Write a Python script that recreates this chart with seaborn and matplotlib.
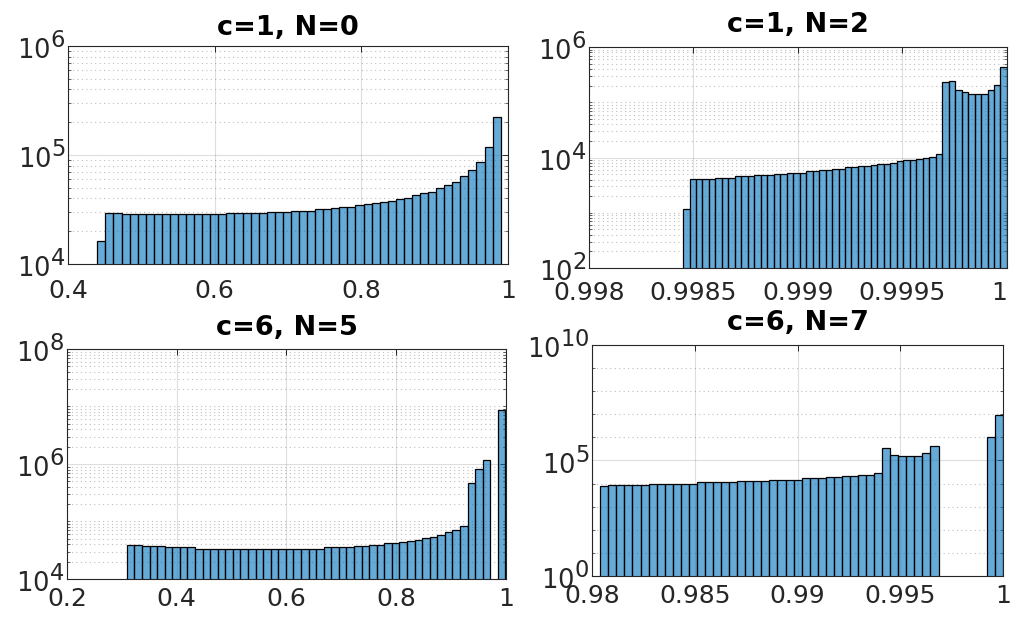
import numpy as np
import pandas as pd
import matplotlib
matplotlib.use("Agg")
import matplotlib.pyplot as plt
import matplotlib.ticker as mticker
import matplotlib._mathtext as _mt
import seaborn as sns

# ---------------- data ----------------
titles = ["c=1, N=0", "c=1, N=2", "c=6, N=5", "c=6, N=7"]

# histogram bin range (first edge, last edge) for each panel, 50 bins each
bin_lo = [0.440, 0.99845, 0.309, 0.9804]
bin_hi = [0.990, 1.00000, 0.999, 1.0000]

c1n0_counts = [16400, 29600, 29600, 28600, 28600, 28600, 28600, 28600, 28600, 28600,
               28600, 28600, 28600, 28600, 28600, 28600, 29600, 29600, 29600, 29600,
               29600, 30200, 30200, 30200, 30900, 30900, 30900, 31700, 31700, 32600,
               33600, 33600, 34500, 35500, 36300, 37000, 38100, 39200, 40300, 42700,
               45100, 46100, 50100, 52700, 56900, 63700, 72300, 86900, 117500, 224700]

c1n2_counts = [1170, 4100, 4050, 4050, 4050, 4340, 4340, 4340, 4590, 4590,
               4590, 4850, 4850, 4850, 5130, 5130, 5350, 5350, 5350, 5650,
               5650, 5890, 5890, 6230, 6230, 6680, 6680, 6960, 6960, 7260,
               7680, 7680, 8110, 8590, 8950, 8950, 9590, 10000, 10430, 11650,
               229000, 242000, 166000, 153000, 143000, 143000, 143000, 166000, 207000, 428000]

c6n5_counts = [39400, 39400, 37300, 37300, 37300, 35900, 35900, 35900, 35900, 33600,
               33600, 33600, 33600, 33600, 33600, 33600, 33600, 33600, 33600, 33600,
               33600, 33600, 33600, 33600, 33600, 33600, 35400, 35400, 35400, 35400,
               37300, 37300, 39400, 39400, 41500, 41500, 44400, 46200, 48100, 50700,
               53500, 58700, 65300, 71700, 83000, 474000, 819000, 1158000, 0, 8630000]

c6n7_counts = [8090, 8940, 8940, 8940, 8940, 8940, 9870, 9870, 9870, 9870,
               9870, 9870, 11270, 11270, 11270, 11270, 11270, 12860, 12860, 12860,
               12860, 14680, 14680, 14680, 14680, 17330, 17330, 17330, 19140, 19140,
               21840, 21840, 24110, 24110, 28450, 340000, 175000, 159000, 159000, 159000,
               207000, 429000, 0, 0, 0, 0, 0, 0, 1013000, 9610000]

all_counts = [c1n0_counts, c1n2_counts, c6n5_counts, c6n7_counts]

xlims = [(0.4, 1.0), (0.998, 1.0), (0.2, 1.0), (0.98, 1.0)]
xtick_vals = [[0.4, 0.6, 0.8, 1.0],
              [0.998, 0.9985, 0.999, 0.9995, 1.0],
              [0.2, 0.4, 0.6, 0.8, 1.0],
              [0.98, 0.985, 0.99, 0.995, 1.0]]
xtick_labels = [["0.4", "0.6", "0.8", "1"],
                ["0.998", "0.9985", "0.999", "0.9995", "1"],
                ["0.2", "0.4", "0.6", "0.8", "1"],
                ["0.98", "0.985", "0.99", "0.995", "1"]]
ylim_exp = [(4, 6), (2, 6), (4, 8), (0, 10)]
ytick_exp = [[4, 5, 6], [2, 4, 6], [4, 6, 8], [0, 5, 10]]

# ---------------- style ----------------
sns.set_style("white")
plt.rcParams["font.family"] = ["DejaVu Sans"]
plt.rcParams["mathtext.fontset"] = "dejavusans"
# MATLAB-like exponents: almost as large as the base digits
_mt.SHRINK_FACTOR = 0.88

dark = (0.15, 0.15, 0.15)
face = (0.0, 0.447, 0.741)

fig = plt.figure(figsize=(10.12, 6.17), dpi=100)
positions = [[0.0672, 0.5721, 0.4348, 0.3533],
             [0.5820, 0.5656, 0.4130, 0.3582],
             [0.0662, 0.0616, 0.4338, 0.3728],
             [0.5850, 0.0665, 0.4061, 0.3744]]
title_pads = [8, 10.5, 10, 11]
xpads = [11, 9, 6, 6]

for i in range(4):
    ax = fig.add_axes(positions[i])
    counts = np.array(all_counts[i], dtype=float)
    edges = np.linspace(bin_lo[i], bin_hi[i], len(counts) + 1)
    centers = 0.5 * (edges[:-1] + edges[1:])
    df = pd.DataFrame({"value": centers, "count": counts})
    sns.histplot(data=df, x="value", weights="count", bins=list(edges), ax=ax,
                 color=face, alpha=0.6, edgecolor="black", linewidth=0.9)
    ax.set_yscale("log")
    ax.set_xlim(*xlims[i])
    ax.set_ylim(10.0 ** ylim_exp[i][0], 10.0 ** ylim_exp[i][1])
    ax.set_xticks(xtick_vals[i])
    ax.set_xticklabels(xtick_labels[i])
    ax.set_yticks([10.0 ** e for e in ytick_exp[i]])
    ax.set_yticklabels([r"$10^{%d}$" % e for e in ytick_exp[i]])
    if i == 3:
        ax.yaxis.set_minor_locator(mticker.LogLocator(base=10, subs=(1.0,), numticks=30))
    else:
        ax.yaxis.set_minor_locator(mticker.LogLocator(base=10, subs=np.arange(1, 10), numticks=30))
    ax.yaxis.set_minor_formatter(mticker.NullFormatter())
    ax.xaxis.set_minor_locator(mticker.NullLocator())
    ax.set_ylabel("")
    ax.set_xlabel("")
    ax.set_axisbelow(True)
    ax.grid(True, which="major", color=dark, alpha=0.15, linewidth=0.8, linestyle="-")
    ax.grid(True, which="minor", axis="y", color=dark, alpha=0.3, linewidth=0.8,
            linestyle=(0, (1, 3)))
    for sp in ax.spines.values():
        sp.set_color(dark)
        sp.set_linewidth(0.8)
        sp.set_visible(True)
    ax.tick_params(axis="both", which="major", direction="in", length=4, width=0.7,
                   top=True, right=True, colors=dark, labelcolor=dark)
    ax.tick_params(axis="y", which="major", labelsize=18.5, pad=2)
    ax.tick_params(axis="x", which="major", labelsize=18, pad=xpads[i])
    ax.tick_params(axis="y", which="minor", direction="in", length=2, width=0.5,
                   left=True, right=True, colors=dark)
    ax.set_title(titles[i], fontsize=19.5, fontweight="bold", pad=title_pads[i], color="black")
    # keep the rightmost "1" label of the top-right panel inside the figure
    if i == 1:
        ax.get_xticklabels()[-1].set_horizontalalignment("right")

fig.savefig("out.png", dpi=100)
